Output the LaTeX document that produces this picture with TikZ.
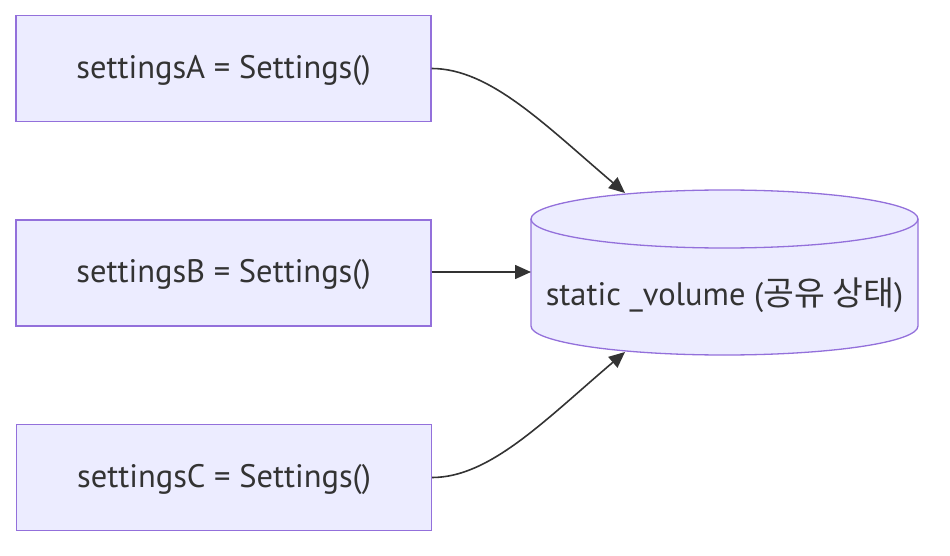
\documentclass[tikz,border=0pt]{standalone}
\usepackage{fontspec}
\setmainfont{PT Sans}
\newfontfamily\kfont{Noto Sans CJK KR}
\usetikzlibrary{arrows.meta}
\definecolor{nodefill}{HTML}{ECECFF}
\definecolor{nodeline}{HTML}{9370DB}
\definecolor{edge}{HTML}{333333}
\tikzset{
  x=1pt,y=-1pt,
  lbl/.style={font=\fontsize{32.5}{38}\selectfont,text=edge},
  proc/.style={draw=nodeline,fill=nodefill,line width=1.3pt,minimum width=415pt,minimum height=106pt,inner sep=0pt},
  ptext/.style={lbl,inner sep=0pt},
  conn/.style={draw=edge,line width=1.6pt,-{Triangle[length=16pt,width=14pt]}}
}
\begin{document}
\begin{tikzpicture}
\useasboundingbox (0,0) rectangle (950,556);
\node[proc] (A) at (223.5,68.5) {};
\node[ptext] (At) at (223.5,71) {settingsA = Settings()};
\node[proc] (B) at (223.5,273) {};
\node[ptext] (Bt) at (223.5,275) {settingsB = Settings()};
\node[proc] (C) at (224,477.5) {};
\node[ptext] (Ct) at (224,480) {settingsC = Settings()};
% cylinder
\fill[nodefill] (531,219) -- (531,326) arc[start angle=180,end angle=360,x radius=193.5,y radius=-29] -- (918,219) arc[start angle=0,end angle=180,x radius=193.5,y radius=-29] -- cycle;
\draw[nodeline,line width=1.3pt] (531,219) -- (531,326) arc[start angle=180,end angle=360,x radius=193.5,y radius=-29] -- (918,219);
\draw[nodeline,line width=1.3pt] (724.5,219) ellipse[x radius=193.5,y radius=29];
\node[inner sep=0pt,minimum width=387pt,minimum height=165pt] (V) at (724.5,272.5) {};
\node[lbl,inner sep=0pt] (VT) at (724.5,295) {static \_volume ({\kfont\fontsize{33.5}{38}\selectfont 공유 상태})};
\coordinate (tA) at (625,193);
\coordinate (tB) at (531,272);
\coordinate (tC) at (625,352);
\draw[conn] (A.east) .. controls (490,68.5) and (545,125) .. (tA);
\draw[conn] (B.east |- tB) -- (tB);
\draw[conn] (C.east) .. controls (490,477.5) and (545,420) .. (tC);
\end{tikzpicture}
\end{document}
